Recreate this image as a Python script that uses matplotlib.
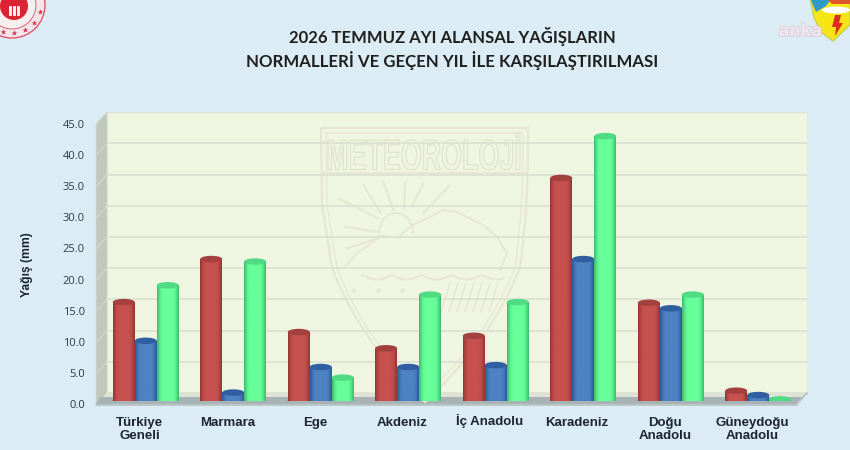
import matplotlib
matplotlib.use('Agg')
import matplotlib.pyplot as plt
import matplotlib.patheffects as pe
import numpy as np
from matplotlib.font_manager import FontProperties
from matplotlib.patches import Polygon, Ellipse, Circle, PathPatch
from matplotlib.path import Path
from matplotlib.textpath import TextPath
from matplotlib.transforms import Affine2D

W, H = 850, 450

regions = ['Türkiye\nGeneli', 'Marmara', 'Ege', 'Akdeniz', 'İç Anadolu', 'Karadeniz', 'Doğu\nAnadolu', 'Güneydoğu\nAnadolu']
normal_vals = [15.8, 22.7, 11.0, 8.4, 10.4, 35.7, 15.7, 1.6]
last_year_vals = [9.6, 1.3, 5.4, 5.4, 5.7, 22.7, 14.8, 0.9]
this_year_vals = [18.5, 22.3, 3.7, 17.0, 15.8, 42.4, 17.0, 0.2]
y_ticks = [0, 5, 10, 15, 20, 25, 30, 35, 40, 45]

BG = '#DBECF4'
WALL = '#EEF6E2'
GRID = '#DADFD1'
MARK = '#E7E6D2'

# kolon renkleri: kenar, orta, ust kapak
RED = ('#963533', '#C6514F', '#A4403D')
BLUE = ('#2C5A98', '#4E82C2', '#2F5FA0')
GREEN = ('#3CBB6E', '#66FF99', '#50DA84')


def px_axes(fig, left, right, top, bottom, **kw):
    # piksel koordinatindan axes olustur
    return fig.add_axes([left / W, 1 - bottom / H, (right - left) / W, (bottom - top) / H], **kw)


def shade(c_edge, c_mid, n=48):
    e = np.array(matplotlib.colors.to_rgb(c_edge))
    m = np.array(matplotlib.colors.to_rgb(c_mid))
    t = np.linspace(0, 1, n)
    t = 1 - np.abs(t - 0.5) * 2
    t = np.sin(np.clip(t * 1.8, 0, 1) * np.pi / 2)
    return (e[None, :] * (1 - t[:, None]) + m[None, :] * t[:, None])[None, :, :]


plt.rcParams['font.family'] = ['Liberation Sans', 'DejaVu Sans']
fig = plt.figure(figsize=(8.5, 4.5), dpi=100, facecolor=BG)

# arka plan katmani (piksel duzleminde)
bgax = px_axes(fig, 0, W, 0, H, zorder=0)
bgax.set_xlim(0, W)
bgax.set_ylim(H, 0)
bgax.axis('off')
bgax.add_patch(Polygon([(107, 112), (807, 112), (807, 393), (107, 393)], fc=WALL, ec='#E2E8DA', lw=0.8))
bgax.add_patch(Polygon([(96, 124), (107, 112), (107, 393), (96, 405)], fc='#BEC9BC', ec='#D5DCCF', lw=0.6))
bgax.add_patch(Polygon([(96, 405), (107, 393), (807, 393), (796, 405)], fc='#DDE4D6', ec='none'))
bgax.add_patch(Polygon([(100.5, 397), (803, 397), (796, 404), (96, 404)], fc='#A7B3B4', ec='none'))
bgax.plot([96, 796, 807], [405, 405, 393], color='#BAC5C6', lw=1.4, solid_capstyle='round')

# arka duvar filigrani
for inset, lw in [(0, 1.6), (5, 0.9)]:
    pts = [(321 + inset, 128 + inset), (528 - inset, 128 + inset), (529 - inset, 205), (520 - inset, 268),
           (490 - inset, 342), (425, 402 - inset * 1.6), (360 + inset, 342), (332 + inset, 268), (322 + inset, 205), (321 + inset, 128 + inset)]
    codes = [Path.MOVETO, Path.LINETO, Path.CURVE3, Path.CURVE3, Path.CURVE3, Path.CURVE3, Path.CURVE3, Path.CURVE3, Path.LINETO, Path.LINETO]
    bgax.add_patch(PathPatch(Path(pts, codes), fc='none', ec=MARK, lw=lw))
bgax.plot([322, 528], [173, 173], color=MARK, lw=1.4)

# filigran yazisi dar ve uzun
tp = TextPath((0, 0), 'METEOROLOJİ', size=10, prop=FontProperties(family='Liberation Sans', weight='bold'))
bb = tp.get_extents()
tr = Affine2D().translate(-bb.x0, -bb.y0).scale(192 / bb.width, -37 / bb.height).translate(328, 170)
bgax.add_patch(PathPatch(tp.transformed(tr), fc='none', ec='#E3E2CC', lw=0.9))

# gunes isinlari
rays = [(115, 265, 235, 325), (190, 225, 240, 305), (250, 215, 280, 300), (315, 220, 312, 295),
        (370, 220, 335, 290), (445, 230, 370, 310), (135, 350, 230, 365), (140, 415, 235, 385)]
for xa, ya, xb, yb in rays:
    bgax.plot([300 + xa / 3, 300 + xb / 3], [110 + ya / 3, 110 + yb / 3], color=MARK, lw=1.5)
a = np.linspace(np.pi, 2 * np.pi, 30)
bgax.plot(396 + 17 * np.cos(a), 233 + 20 * np.sin(a), color=MARK, lw=1.2)

cloud_x = [345, 357, 372, 380, 397, 413, 430, 443, 457, 467, 483, 497, 507, 500]
cloud_y = [267, 253, 243, 235, 238, 225, 217, 210, 212, 217, 225, 237, 253, 270]
bgax.plot(cloud_x, cloud_y, color=MARK, lw=1.3)
sx = np.arange(362, 505, 2.0)
bgax.plot(sx, 275 + 4.5 * np.abs(np.sin((sx - 362) / 9.5)), color=MARK, lw=1.4)
for dx in [353, 378, 402]:
    bgax.plot(dx, 290, marker='o', ms=3, color=MARK, mec='none')
for rx in range(450, 500, 8):
    bgax.plot([rx, rx - 9], [283, 312], color=MARK, lw=1.0)

# arka duvar izgarasi
back = px_axes(fig, 107, 807, 112.2, 393, zorder=1)
back.patch.set_alpha(0)
back.set_ylim(0, 45)
back.set_xlim(0, 1)
back.set_xticks([])
back.set_yticks(y_ticks)
back.tick_params(left=False, labelleft=False)
back.grid(axis='y', color=GRID, lw=1.1)
for s in back.spines.values():
    s.set_visible(False)

# yan duvar cizgileri
for v in y_ticks[1:]:
    y_back = 393 - v * (393 - 112.2) / 45
    y_front = 404.5 - v * (404.5 - 123.7) / 45
    bgax.plot([96.5, 107], [y_front, y_back], color='#D3DBCB', lw=0.8)

# on duzlem: eksen yazilari
front = px_axes(fig, 96, 796, 123.7, 404.5, zorder=2)
front.patch.set_alpha(0)
front.set_xlim(-0.5, len(regions) - 0.5)
front.set_ylim(0, 45)
front.set_yticks(y_ticks)
front.set_yticklabels([f'{v:.1f}' for v in y_ticks], family=['Open Sans', 'DejaVu Sans'], fontsize=8, color='#2B3A47')
front.set_xticks(range(len(regions)))
front.set_xticklabels(regions, fontweight='bold', fontsize=9.5, color='#1C2530', linespacing=1.12)
front.tick_params(length=0, pad=8, axis='y')
front.tick_params(length=0, pad=9, axis='x')
# noktali I yuzunden bu etiket asagi kayiyor
front.xaxis.get_major_ticks()[4].set_pad(6.5)
for s in front.spines.values():
    s.set_visible(False)

# kolonlar orta duzlemde
bars = px_axes(fig, 102, 802, 119.9, 400.7, zorder=3)
bars.patch.set_alpha(0)
bars.axis('off')
bars.set_xlim(-0.5, len(regions) - 0.5)
bars.set_ylim(0, 45)

bar_w = 22 / 87.5
cap_h = 6.5 * 45 / 280.8
for off, vals, cols in [(-bar_w, normal_vals, RED), (0, last_year_vals, BLUE), (bar_w, this_year_vals, GREEN)]:
    grad = shade(cols[0], cols[1])
    for i, v in enumerate(vals):
        x = i + off
        bars.add_patch(Ellipse((x, 0), bar_w, cap_h, fc=cols[0], ec='none', zorder=3))
        bars.bar(x, v, width=bar_w, color=cols[1], zorder=4)
        bars.imshow(grad, extent=[x - bar_w / 2, x + bar_w / 2, 0, v], aspect='auto', zorder=4.5, interpolation='bilinear')
        bars.add_patch(Ellipse((x, v), bar_w, cap_h, fc=cols[2], ec='none', zorder=5))
bars.set_xlim(-0.5, len(regions) - 0.5)
bars.set_ylim(0, 45)

# baslik ve eksen adi, logolar
top = px_axes(fig, 0, W, 0, H, zorder=4)
top.set_xlim(0, W)
top.set_ylim(H, 0)
top.axis('off')
title_font = ['Lato', 'DejaVu Sans']
top.text(452, 36, '2026 TEMMUZ AYI ALANSAL YAĞIŞLARIN', ha='center', va='center', fontsize=12, fontweight='bold', family=title_font, color='#1F1F1F')
top.text(452, 60, 'NORMALLERİ VE GEÇEN YIL İLE KARŞILAŞTIRILMASI', ha='center', va='center', fontsize=12.1, fontweight='bold', family=title_font, color='#1F1F1F')
top.text(27, 265, 'Yağış (mm)', rotation=90, ha='center', va='center', fontsize=8.7, fontweight='bold', color='#1C2530')

# sol ust muhur
top.add_patch(Circle((12, 5), 33, fc='#F4E6EA', ec='#D9485F', lw=0.9))
top.add_patch(Circle((12, 5), 24, fc='#F7EEF0', ec='#D9485F', lw=0.6))
top.add_patch(Circle((14, 6), 14, fc='#DD2233', ec='none'))
for a in np.radians([15, 38, 62, 85, 108, 130]):
    top.plot(12 + 28.5 * np.cos(a), 5 + 28.5 * np.sin(a), marker='*', ms=4, color='#D72E42', mec='none')
for dx in [10, 14, 18]:
    top.plot([dx, dx], [7, 14], color='white', lw=2)

# sag ust kalkan
crest = Polygon([(810, -2), (850, -2), (850, 25), (833, 41), (822, 33), (814, 18)], fc='#F6E616', ec='#C9CF5A', lw=1)
top.add_patch(crest)
top.add_patch(Polygon([(810, -2), (832, -2), (826, 6), (816, 12)], fc='#2F9BC9', ec='none'))
top.add_patch(Polygon([(826, -2), (850, -2), (850, 4), (832, 4)], fc='#E0552A', ec='none'))
top.add_patch(Ellipse((836, 10), 28, 7, fc='white', ec='none'))
top.add_patch(Polygon([(835, 15), (841, 15), (839, 23), (843, 23), (835, 36), (836, 27), (832, 27)], fc='#E02B20', ec='none'))
top.text(800.5, 31, 'anka', ha='center', va='center', fontsize=12.5, color='#F3E8EF', family=['Open Sans', 'DejaVu Sans'],
         fontweight='bold', path_effects=[pe.withStroke(linewidth=1.0, foreground='#DCC6D6')])

fig.savefig('out.png', dpi=100, facecolor=BG)
